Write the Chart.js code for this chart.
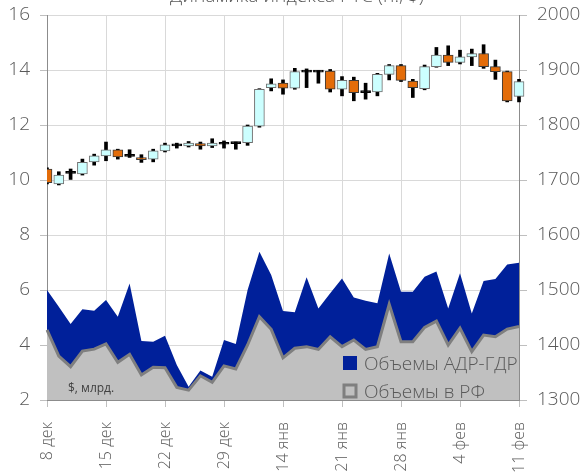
<!DOCTYPE html>
<html>
<head>
<meta charset="utf-8">
<script src="https://cdn.jsdelivr.net/npm/chart.js@4"></script>
<style>
  html, body { margin: 0; padding: 0; background: #fff; overflow: hidden; }
  #wrap { position: relative; width: 588px; height: 472px; }
</style>
</head>
<body>
<div id="wrap"><canvas id="rts-chart" width="588" height="472"></canvas></div>
<script>
// trading days, 8 dec 2009 - 11 feb 2010
const days = [
  "8 дек", "9 дек", "10 дек", "11 дек", "14 дек", "15 дек", "16 дек", "17 дек", "18 дек", "21 дек",
  "22 дек", "23 дек", "24 дек", "25 дек", "28 дек", "29 дек", "30 дек", "11 янв", "12 янв", "13 янв",
  "14 янв", "15 янв", "18 янв", "19 янв", "20 янв", "21 янв", "22 янв", "25 янв", "26 янв", "27 янв",
  "28 янв", "29 янв", "1 фев", "2 фев", "3 фев", "4 фев", "5 фев", "8 фев", "9 фев", "10 фев", "11 фев"
];

// RTS index, points
const opens  = [1720, 1693, 1712, 1711, 1733, 1744, 1755, 1743, 1740, 1738, 1753, 1762, 1762, 1766, 1762, 1765, 1766, 1768, 1798, 1868, 1876, 1867, 1896, 1896, 1898, 1865, 1881, 1859, 1860, 1892, 1908, 1880, 1866, 1906, 1927, 1914, 1924, 1930, 1906, 1897, 1852];
const highs  = [1722, 1715, 1720, 1738, 1747, 1769, 1756, 1755, 1746, 1756, 1767, 1767, 1770, 1769, 1775, 1771, 1769, 1800, 1866, 1884, 1882, 1903, 1902, 1899, 1901, 1888, 1887, 1876, 1894, 1910, 1910, 1883, 1909, 1941, 1944, 1936, 1938, 1946, 1918, 1898, 1883];
const lows   = [1693, 1691, 1701, 1709, 1727, 1735, 1738, 1741, 1732, 1733, 1751, 1758, 1760, 1756, 1759, 1758, 1756, 1763, 1796, 1862, 1856, 1865, 1868, 1876, 1860, 1853, 1844, 1847, 1853, 1882, 1879, 1850, 1864, 1905, 1908, 1911, 1908, 1903, 1883, 1842, 1842];
const closes = [1695, 1709, 1712, 1732, 1744, 1755, 1742, 1743, 1737, 1753, 1764, 1762, 1767, 1762, 1767, 1765, 1766, 1798, 1865, 1875, 1867, 1897, 1896, 1896, 1865, 1881, 1859, 1859, 1892, 1908, 1881, 1868, 1906, 1927, 1914, 1924, 1930, 1906, 1897, 1844, 1879];

// trading volumes, $ bn
const volAdrGdr = [6.0, 5.39, 4.76, 5.30, 5.25, 5.64, 5.03, 6.24, 4.15, 4.12, 4.34, 3.27, 2.48, 3.07, 2.85, 4.18, 4.04, 6.0, 7.39, 6.55, 5.24, 5.19, 6.46, 5.33, 5.88, 6.42, 5.73, 5.61, 5.52, 7.33, 5.94, 5.94, 6.48, 6.67, 5.33, 6.61, 5.15, 6.33, 6.40, 6.93, 6.99];
const volRf     = [4.55, 3.6, 3.21, 3.78, 3.85, 4.04, 3.37, 3.66, 2.91, 3.19, 3.17, 2.46, 2.36, 2.88, 2.64, 3.24, 3.13, 4.0, 5.03, 4.57, 3.53, 3.88, 3.94, 3.84, 4.30, 3.94, 4.18, 3.84, 3.94, 5.48, 4.12, 4.12, 4.64, 4.87, 4.0, 4.61, 3.76, 4.36, 4.30, 4.58, 4.67];

const FONT = "'Open Sans', 'Noto Sans', sans-serif";
const TEXT = "#595959";
const GRID = "#d9d9d9";

const upColor = "#ccffff";
const downColor = "#e36c09";

function bodyColor(ctx) {
  const i = ctx.dataIndex;
  if (closes[i] > opens[i]) return upColor;
  if (closes[i] < opens[i]) return downColor;
  return "#000";
}

function bodyBorder(ctx) {
  const i = ctx.dataIndex;
  if (closes[i] > opens[i]) return "#6f6f6f";
  if (closes[i] < opens[i]) return "#3a3a3a";
  return "#000";
}

// no extra room above the chart area for the tick labels
function noVPad(s) {
  s.paddingTop = 0;
  s.paddingBottom = 0;
}

const titlePlugin = {
  id: "cutTitle",
  afterDraw(chart) {
    const c = chart.ctx;
    c.save();
    c.font = "300 19px " + FONT;
    c.fillStyle = TEXT;
    c.textAlign = "center";
    c.textBaseline = "alphabetic";
    c.fillText("Динамика индекса РТС (п., $)", 297, 2);
    c.restore();
  }
};

const legendPlugin = {
  id: "innerLegend",
  afterDraw(chart) {
    const c = chart.ctx;
    const ds = chart.data.datasets;
    c.save();
    c.font = "300 19px " + FONT;
    c.textBaseline = "alphabetic";

    c.fillStyle = ds[0].backgroundColor;
    c.fillRect(343, 356, 14, 14);
    c.fillStyle = TEXT;
    c.fillText(ds[0].label, 364, 370);

    c.fillStyle = ds[1].backgroundColor;
    c.fillRect(344, 385, 12, 12);
    c.lineWidth = 3;
    c.strokeStyle = ds[1].borderColor;
    c.strokeRect(344, 385, 12, 12);
    c.fillStyle = TEXT;
    c.fillText(ds[1].label, 364, 398);

    c.font = "12px " + FONT;
    c.fillStyle = "#404040";
    c.fillText("$, млрд.", 68, 392);
    c.restore();
  }
};

const ctx = document.getElementById("rts-chart");

new Chart(ctx, {
  type: "bar",
  data: {
    labels: days,
    datasets: [
      {
        type: "line",
        label: "Объемы АДР-ГДР",
        data: volAdrGdr,
        yAxisID: "y",
        backgroundColor: "#00209a",
        borderColor: "#00209a",
        borderWidth: 0,
        pointRadius: 0,
        tension: 0,
        fill: "start",
        order: 4,
      },
      {
        type: "line",
        label: "Объемы в РФ",
        data: volRf,
        yAxisID: "y",
        backgroundColor: "#c0c0c0",
        borderColor: "#7f7f7f",
        borderWidth: 3,
        pointRadius: 0,
        tension: 0,
        fill: "start",
        order: 3,
      },
      {
        label: "РТС тени",
        data: lows.map((l, i) => [l, highs[i]]),
        yAxisID: "y1",
        backgroundColor: "#000",
        barThickness: 3,
        grouped: false,
        clip: { left: 0, top: 0, right: 8, bottom: 0 },
        order: 2,
      },
      {
        label: "РТС",
        data: opens.map((o, i) => [o, closes[i]]),
        yAxisID: "y1",
        backgroundColor: bodyColor,
        borderColor: bodyBorder,
        borderWidth: 1,
        borderSkipped: false,
        barThickness: 10,
        minBarLength: 2,
        grouped: false,
        clip: { left: 0, top: 0, right: 8, bottom: 0 },
        order: 1,
      },
    ],
  },
  options: {
    responsive: false,
    animation: false,
    devicePixelRatio: 1,
    layout: { padding: { top: 15, left: 0, right: 0, bottom: 0 } },
    plugins: {
      legend: { display: false },
      tooltip: { enabled: false },
      title: { display: false },
    },
    scales: {
      x: {
        offset: false,
        afterFit: (s) => { s.height = 72; },
        grid: {
          offset: false,
          color: (c) => (c.index % 5 === 0 ? GRID : "rgba(0,0,0,0)"),
          tickLength: 7,
          tickColor: (c) => (c.index % 5 === 0 ? "#bfbfbf" : "rgba(0,0,0,0)"),
        },
        border: { color: "#8c8c8c", width: 1 },
        ticks: {
          autoSkip: false,
          minRotation: 90,
          maxRotation: 90,
          padding: 15,
          color: TEXT,
          font: { family: FONT, size: 16, weight: 300 },
          callback: (v, i) => (i % 5 === 0 ? days[i] : ""),
        },
      },
      y: {
        position: "left",
        min: 2,
        max: 16,
        afterFit: (s) => { s.width = 47; noVPad(s); },
        grid: { color: GRID, tickLength: 7, tickColor: "#bfbfbf" },
        border: { color: "#8c8c8c", width: 1 },
        ticks: {
          stepSize: 2,
          autoSkip: false,
          padding: 10,
          color: TEXT,
          font: { family: FONT, size: 19, weight: 300 },
        },
      },
      y1: {
        position: "right",
        min: 1300,
        max: 2000,
        afterFit: (s) => { s.width = 69; noVPad(s); },
        grid: { drawOnChartArea: false, tickLength: 8, tickColor: "#bfbfbf" },
        border: { color: "#8c8c8c", width: 1 },
        ticks: {
          stepSize: 100,
          autoSkip: false,
          padding: 10,
          color: TEXT,
          font: { family: FONT, size: 19, weight: 300 },
          callback: (v) => String(v),
        },
      },
    },
  },
  plugins: [titlePlugin, legendPlugin],
});
</script>
</body>
</html>
